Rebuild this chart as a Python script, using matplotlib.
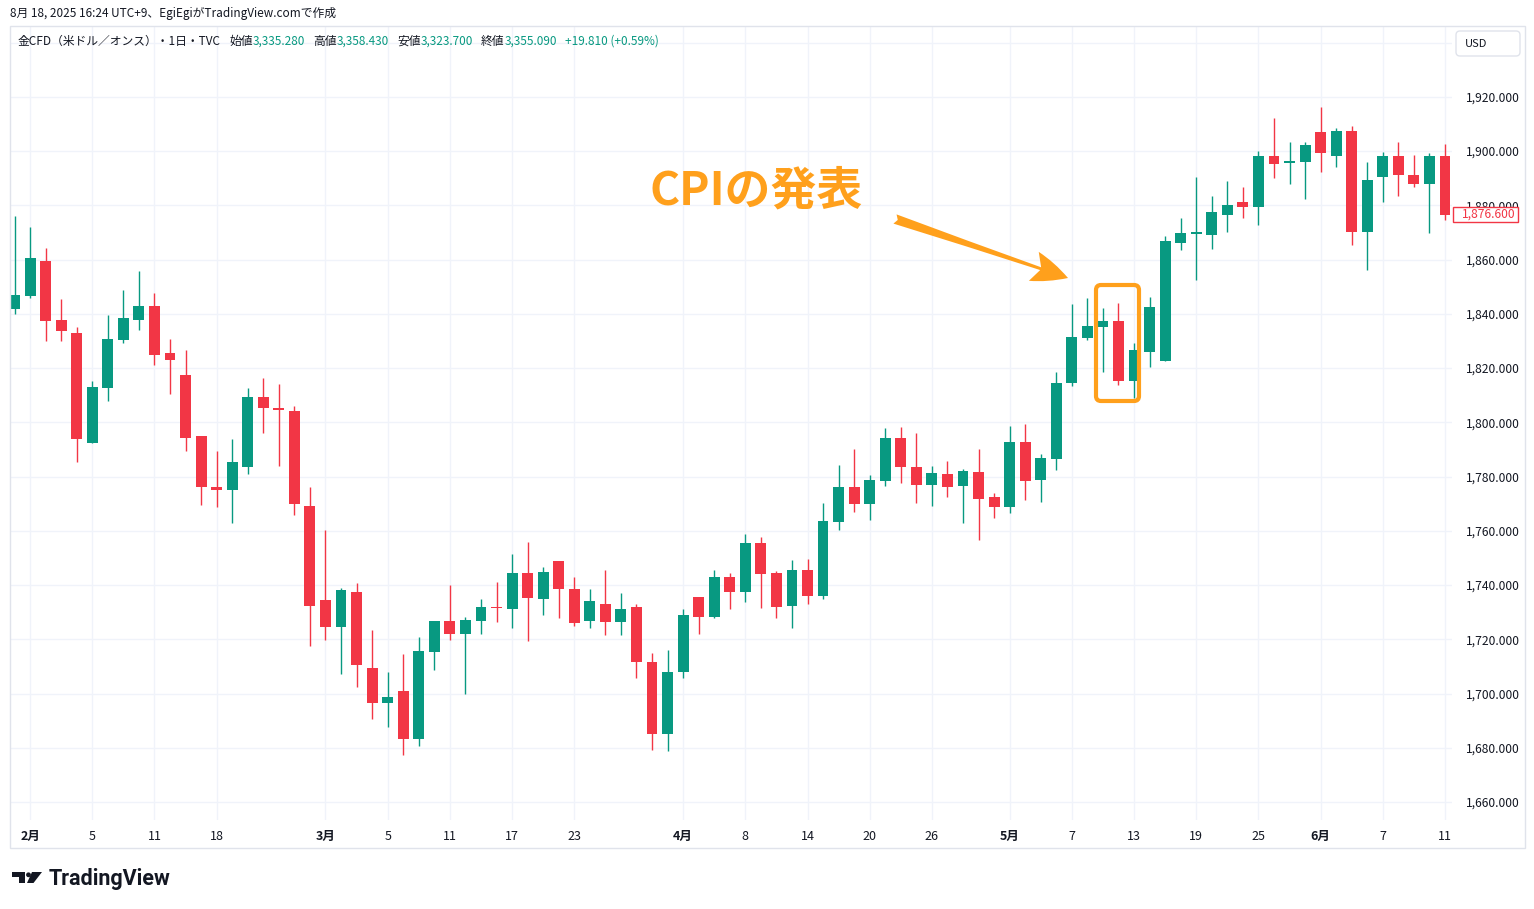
import numpy as np
import pandas as pd
import matplotlib
matplotlib.use("Agg")
import matplotlib.pyplot as plt
from matplotlib.patches import Rectangle, FancyBboxPatch, Polygon, Circle

plt.rcParams['font.family'] = ['Noto Sans CJK JP', 'DejaVu Sans']

# daily bars, gold CFD (TVC); days without a bar dropped
days = pd.bdate_range("2021-01-29", "2021-06-11")
days = days.drop(pd.to_datetime(["2021-02-15", "2021-04-02", "2021-05-31"]))

opens = [1841.6, 1846.4, 1859.3, 1837.9, 1832.8, 1792.5, 1812.8, 1830.2, 1837.6, 1842.7,
         1825.4, 1817.6, 1795.1, 1776.0, 1775.2, 1783.7, 1809.4, 1805.0, 1804.2, 1769.1,
         1734.4, 1724.4, 1737.4, 1709.3, 1696.7, 1700.8, 1683.1, 1715.2, 1726.6, 1721.8,
         1726.6, 1731.8, 1731.0, 1744.6, 1734.7, 1748.7, 1738.7, 1726.9, 1733.2, 1726.5,
         1732.1, 1711.8, 1685.0, 1707.9, 1735.5, 1728.1, 1742.9, 1737.4, 1755.4, 1744.4,
         1732.2, 1745.4, 1735.9, 1763.2, 1776.1, 1769.8, 1778.3, 1794.2, 1783.5, 1776.9,
         1780.9, 1776.5, 1781.6, 1772.4, 1768.7, 1792.7, 1778.6, 1786.4, 1814.4, 1831.0,
         1835.1, 1837.3, 1815.2, 1825.9, 1822.6, 1866.1, 1869.6, 1868.9, 1876.6, 1881.1,
         1879.2, 1898.3, 1895.5, 1896.1, 1907.1, 1898.3, 1907.5, 1870.0, 1890.6, 1898.3,
         1891.3, 1888.0, 1898.3]
highs = [1875.9, 1871.9, 1864.1, 1845.3, 1835.0, 1815.1, 1839.4, 1848.6, 1855.6, 1847.5,
         1830.9, 1826.5, 1795.1, 1789.6, 1794.0, 1812.8, 1816.4, 1814.2, 1806.0, 1776.1,
         1760.2, 1738.8, 1740.7, 1723.3, 1707.8, 1714.5, 1720.7, 1726.6, 1739.9, 1728.1,
         1734.8, 1741.3, 1751.6, 1755.7, 1746.8, 1748.7, 1742.8, 1738.7, 1745.7, 1736.9,
         1733.2, 1714.9, 1716.0, 1731.1, 1735.5, 1745.4, 1744.4, 1758.8, 1757.7, 1745.1,
         1749.1, 1749.5, 1770.2, 1784.2, 1790.2, 1780.6, 1797.9, 1798.3, 1796.1, 1783.9,
         1785.7, 1782.8, 1790.1, 1773.8, 1798.6, 1799.3, 1788.2, 1818.5, 1843.6, 1845.8,
         1842.1, 1844.0, 1829.2, 1846.2, 1868.7, 1875.3, 1890.5, 1883.6, 1889.1, 1886.9,
         1900.2, 1912.3, 1903.5, 1903.5, 1916.3, 1908.6, 1909.3, 1895.8, 1899.8, 1903.5,
         1898.7, 1899.4, 1902.7]
lows = [1839.8, 1846.0, 1829.8, 1829.8, 1785.2, 1792.3, 1808.0, 1829.1, 1834.2, 1821.3,
        1810.6, 1789.6, 1769.7, 1768.6, 1763.0, 1781.1, 1796.1, 1783.9, 1765.8, 1717.4,
        1719.6, 1707.4, 1702.3, 1690.8, 1687.5, 1677.2, 1680.5, 1708.6, 1719.6, 1699.7,
        1721.8, 1726.5, 1724.3, 1719.5, 1728.8, 1727.8, 1724.8, 1724.3, 1721.7, 1721.7,
        1705.9, 1679.1, 1678.7, 1705.9, 1721.9, 1727.7, 1731.1, 1733.7, 1731.4, 1727.8,
        1724.1, 1732.9, 1734.8, 1760.2, 1766.9, 1763.9, 1776.5, 1777.6, 1770.2, 1769.1,
        1772.4, 1762.8, 1756.5, 1764.7, 1766.5, 1771.3, 1770.5, 1782.3, 1813.3, 1830.3,
        1818.5, 1813.7, 1808.9, 1820.3, 1822.6, 1863.5, 1852.4, 1863.8, 1870.0, 1875.2,
        1872.6, 1890.2, 1888.0, 1882.2, 1892.1, 1894.3, 1865.3, 1856.1, 1881.4, 1883.6,
        1886.9, 1869.7, 1874.6]
closes = [1846.8, 1860.4, 1837.2, 1833.5, 1793.8, 1813.2, 1830.6, 1838.3, 1842.7, 1825.0,
          1822.8, 1794.4, 1776.0, 1775.0, 1785.5, 1809.2, 1805.3, 1804.6, 1769.8, 1732.2,
          1724.4, 1738.1, 1710.4, 1696.7, 1698.6, 1683.1, 1715.6, 1726.6, 1721.8, 1727.0,
          1731.8, 1731.5, 1744.6, 1735.4, 1745.0, 1738.4, 1726.2, 1734.3, 1726.5, 1731.0,
          1711.8, 1685.0, 1707.9, 1728.9, 1728.1, 1742.8, 1737.4, 1755.4, 1744.0, 1731.8,
          1745.4, 1735.9, 1763.6, 1776.1, 1769.8, 1778.7, 1794.2, 1783.5, 1776.9, 1781.3,
          1776.1, 1782.0, 1771.6, 1768.7, 1792.7, 1778.3, 1786.8, 1814.4, 1831.4, 1835.5,
          1837.3, 1815.2, 1826.6, 1842.5, 1866.8, 1869.8, 1869.9, 1877.4, 1880.0, 1879.2,
          1898.0, 1895.1, 1896.5, 1902.4, 1899.4, 1907.5, 1870.0, 1889.5, 1898.3, 1891.3,
          1887.7, 1898.0, 1876.6]

tick_dates = ["2021-02-01", "2021-02-05", "2021-02-11", "2021-02-18", "2021-03-01",
              "2021-03-05", "2021-03-11", "2021-03-17", "2021-03-23", "2021-04-01",
              "2021-04-08", "2021-04-14", "2021-04-20", "2021-04-26", "2021-05-03",
              "2021-05-07", "2021-05-13", "2021-05-19", "2021-05-25", "2021-06-01",
              "2021-06-07", "2021-06-11"]
tick_labels = ["2月", "5", "11", "18", "3月", "5", "11", "17", "23", "4月", "8", "14",
               "20", "26", "5月", "7", "13", "19", "25", "6月", "7", "11"]

GREEN = "#089981"
RED = "#f23645"
ORANGE = "#ffa01c"
TEXT = "#131722"
GRID = "#f0f3fa"

W, H = 1534, 909
fig = plt.figure(figsize=(W / 100, H / 100), dpi=100)


def px_box(x0, y0, x1, y1):
    return [x0 / W, 1 - y1 / H, (x1 - x0) / W, (y1 - y0) / H]


ax = fig.add_axes(px_box(10, 26, 1452, 820))

x = np.arange(len(days))
o, h, l, c = map(np.array, (opens, highs, lows, closes))
cols = np.where(c >= o, GREEN, RED)

ax.vlines(x, l, h, colors=cols, lw=1.0, zorder=2)
body = np.maximum(np.abs(c - o), 0.5)
ax.bar(x, body, bottom=np.minimum(o, c), width=0.7, color=cols, lw=0, zorder=3)

ax.set_xlim(-0.29, 92.45)
ax.set_ylim(1653.4, 1946.1)

tick_idx = [days.get_loc(pd.Timestamp(d)) for d in tick_dates]
ax.set_xticks(tick_idx, tick_labels)
for lab in ax.get_xticklabels():
    if "月" in lab.get_text():
        lab.set_fontweight("bold")
ax.tick_params(axis="x", length=0, pad=7, labelsize=9, labelcolor=TEXT)

ax.yaxis.tick_right()
ax.set_yticks(np.arange(1660, 1941, 20))
ax.yaxis.set_major_formatter(lambda v, p: f"{v:,.3f}" if v < 1930 else "")
ax.tick_params(axis="y", length=0, pad=10, labelsize=8.7, labelcolor=TEXT)

ax.grid(True, color=GRID, lw=1)
ax.set_axisbelow(True)
for s in ax.spines.values():
    s.set_visible(False)

# overlay in pixel coordinates for the TradingView frame and annotations
ov = fig.add_axes([0, 0, 1, 1])
ov.set_xlim(0, W)
ov.set_ylim(H, 0)
ov.axis("off")
ov.patch.set_alpha(0)

ov.add_patch(Rectangle((10, 26), 1515, 822, fill=False, ec="#e0e3eb", lw=1))

ov.text(10, 14, "8月 18, 2025 16:24 UTC+9、EgiEgiがTradingView.comで作成",
        fontsize=8.5, color=TEXT, va="center")

header = [(18, "金CFD（米ドル／オンス）・1日・TVC", TEXT), (229, "始値", TEXT),
          (253, "3,335.280", GREEN), (313, "高値", TEXT), (337, "3,358.430", GREEN),
          (397, "安値", TEXT), (421, "3,323.700", GREEN), (481, "終値", TEXT),
          (505, "3,355.090", GREEN), (565, "+19.810 (+0.59%)", GREEN)]
for hx, txt, colr in header:
    ov.text(hx, 41, txt, fontsize=8.5, color=colr, va="center")

# USD box
ov.add_patch(FancyBboxPatch((1456, 31), 64, 25, boxstyle="round,pad=0,rounding_size=4",
                            ec="#e0e3eb", fc="white", lw=1))
ov.text(1465, 44, "USD", fontsize=8, color=TEXT, va="center")

# last price label
fig.canvas.draw()
last_y = H - ax.transData.transform((0, closes[-1]))[1]
ov.add_patch(Rectangle((1453, last_y - 7.5), 65, 15, ec=RED, fc="white", lw=1))
ov.text(1462, last_y, f"{closes[-1]:,.3f}", fontsize=8.7, color=RED, va="center")

# CPI annotation
ov.text(650, 191, "CPIの発表", fontsize=33, fontweight="bold", color=ORANGE, va="center")
ov.annotate("", xy=(1068, 278), xytext=(895, 219),
            arrowprops=dict(arrowstyle="fancy,head_length=1.3,head_width=1.1,tail_width=0.35",
                            color=ORANGE, mutation_scale=20, shrinkA=0, shrinkB=0, lw=0))
ov.add_patch(FancyBboxPatch((1096, 285), 43, 116, boxstyle="round,pad=0,rounding_size=5",
                            ec=ORANGE, fc="none", lw=3))

# TradingView logo
ov.add_patch(Polygon([(12, 872), (25, 872), (25, 883), (18.5, 883), (18.5, 876.5), (12, 876.5)],
                     closed=True, fc=TEXT, ec="none"))
ov.add_patch(Circle((28.5, 874.8), 2.4, fc=TEXT, ec="none"))
ov.add_patch(Polygon([(32, 872), (42, 872), (33.5, 883), (27, 883)], closed=True, fc=TEXT, ec="none"))
ov.text(49, 879, "TradingView", fontsize=15.5, fontweight="bold", color=TEXT, va="center",
        family=["Roboto", "DejaVu Sans"])

fig.savefig("out.png", dpi=100)
